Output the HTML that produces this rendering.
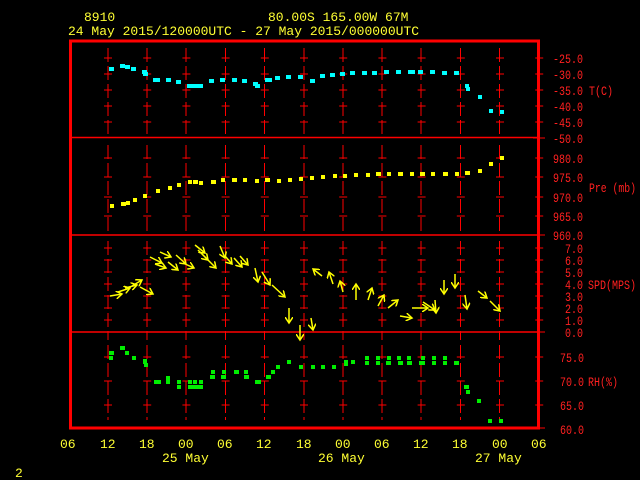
<!DOCTYPE html>
<html><head><meta charset="utf-8"><style>
body{margin:0;background:#000;}
svg{display:block}
text{font-family:"Liberation Mono",monospace;font-size:13px;}
.r text{font-size:12.5px;}
</style></head><body>
<svg width="640" height="480" viewBox="0 0 640 480" xmlns="http://www.w3.org/2000/svg">
<rect width="640" height="480" fill="#000"/>
<g fill="#ffff33">
<text x="84" y="21">8910</text>
<text x="268" y="21">80.00S  165.00W    67M</text>
<text x="68" y="35">24 May 2015/120000UTC - 27 May 2015/000000UTC</text>
<text x="60" y="448">06</text><text x="100" y="448">12</text><text x="139" y="448">18</text>
<text x="178" y="448">00</text><text x="217" y="448">06</text><text x="256" y="448">12</text>
<text x="296" y="448">18</text><text x="335" y="448">00</text><text x="374" y="448">06</text>
<text x="413" y="448">12</text><text x="452" y="448">18</text><text x="492" y="448">00</text>
<text x="531" y="448">06</text>
<text x="162" y="462">25 May</text><text x="318" y="462">26 May</text><text x="475" y="462">27 May</text>
<text x="15" y="477">2</text>
</g>
<g stroke="#ff0000" stroke-width="1" fill="none">
<g stroke-dasharray="14 4">
<path d="M108 48V137M147 48V137M186 48V137M225.5 48V137M264.5 48V137M304 48V137M343 48V137M382 48V137M421 48V137M460.5 48V137M499.5 48V137"/>
<path d="M108 145V235M147 145V235M186 145V235M225.5 145V235M264.5 145V235M304 145V235M343 145V235M382 145V235M421 145V235M460.5 145V235M499.5 145V235"/>
<path d="M108 241V340M147 241V340M186 241V340M225.5 241V340M264.5 241V340M304 241V340M343 241V340M382 241V340M421 241V340M460.5 241V340M499.5 241V340"/>
<path d="M108 345V420M147 345V420M186 345V420M225.5 345V420M264.5 345V420M304 345V420M343 345V420M382 345V420M421 345V420M460.5 345V420M499.5 345V420"/>
</g>
<g stroke-dasharray="8 31.2">
<path d="M104 58H548M104 74H548M104 90H548M104 106H548M104 122H548M104 158H548M104 177H548M104 197H548M104 216H548M104 248H548M104 260H548M104 272H548M104 284H548M104 296H548M104 308H548M104 320H548M104 357H548M104 381H548M104 405H548"/>
</g>
<path d="M533 138H545M533 235H545M533 332H545M533 428H545"/>
<path d="M72 137.5H538M72 235H538M72 332H538" stroke-width="1.5"/>
<rect x="70.5" y="41" width="468" height="387" stroke-width="3"/>
</g>
<g fill="#ff2020" class="r" lengthAdjust="spacingAndGlyphs">
<text x="553" y="63" textLength="30" lengthAdjust="spacingAndGlyphs">-25.0</text><text x="553" y="79" textLength="30" lengthAdjust="spacingAndGlyphs">-30.0</text><text x="553" y="95" textLength="30" lengthAdjust="spacingAndGlyphs">-35.0</text>
<text x="553" y="111" textLength="30" lengthAdjust="spacingAndGlyphs">-40.0</text><text x="553" y="127" textLength="30" lengthAdjust="spacingAndGlyphs">-45.0</text><text x="553" y="143" textLength="30" lengthAdjust="spacingAndGlyphs">-50.0</text>
<text x="589" y="95" textLength="24" lengthAdjust="spacingAndGlyphs">T(C)</text>
<text x="553" y="163" textLength="30" lengthAdjust="spacingAndGlyphs">980.0</text><text x="553" y="182" textLength="30" lengthAdjust="spacingAndGlyphs">975.0</text><text x="553" y="202" textLength="30" lengthAdjust="spacingAndGlyphs">970.0</text>
<text x="553" y="221" textLength="30" lengthAdjust="spacingAndGlyphs">965.0</text><text x="553" y="240" textLength="30" lengthAdjust="spacingAndGlyphs">960.0</text>
<text x="589" y="192" textLength="47" lengthAdjust="spacingAndGlyphs">Pre (mb)</text>
<text x="565" y="253" textLength="18" lengthAdjust="spacingAndGlyphs">7.0</text><text x="565" y="265" textLength="18" lengthAdjust="spacingAndGlyphs">6.0</text><text x="565" y="277" textLength="18" lengthAdjust="spacingAndGlyphs">5.0</text>
<text x="565" y="289" textLength="18" lengthAdjust="spacingAndGlyphs">4.0</text><text x="565" y="301" textLength="18" lengthAdjust="spacingAndGlyphs">3.0</text><text x="565" y="313" textLength="18" lengthAdjust="spacingAndGlyphs">2.0</text>
<text x="565" y="325" textLength="18" lengthAdjust="spacingAndGlyphs">1.0</text><text x="565" y="337" textLength="18" lengthAdjust="spacingAndGlyphs">0.0</text>
<text x="588" y="289" textLength="48" lengthAdjust="spacingAndGlyphs">SPD(MPS)</text>
<text x="560" y="362" textLength="24" lengthAdjust="spacingAndGlyphs">75.0</text><text x="560" y="386" textLength="24" lengthAdjust="spacingAndGlyphs">70.0</text><text x="560" y="410" textLength="24" lengthAdjust="spacingAndGlyphs">65.0</text><text x="560" y="434" textLength="24" lengthAdjust="spacingAndGlyphs">60.0</text>
<text x="588" y="386" textLength="30" lengthAdjust="spacingAndGlyphs">RH(%)</text>
</g>
<g fill="#00ffff">
<rect x="109" y="67" width="5" height="4"/><rect x="120" y="64" width="5" height="4"/><rect x="125" y="65" width="5" height="4"/>
<rect x="131" y="67" width="5" height="4"/><rect x="142" y="70" width="5" height="4"/><rect x="143" y="72" width="5" height="4"/>
<rect x="153" y="78" width="7" height="4"/><rect x="166" y="78" width="5" height="4"/><rect x="176" y="80" width="5" height="4"/>
<rect x="187" y="84" width="16" height="4"/><rect x="209" y="79" width="5" height="4"/><rect x="220" y="78" width="5" height="4"/>
<rect x="232" y="78" width="5" height="4"/><rect x="242" y="79" width="5" height="4"/><rect x="253" y="82" width="5" height="4"/>
<rect x="255" y="84" width="5" height="4"/><rect x="265" y="78" width="7" height="4"/><rect x="275" y="76" width="5" height="4"/>
<rect x="286" y="75" width="5" height="4"/><rect x="298" y="75" width="5" height="4"/><rect x="310" y="79" width="5" height="4"/>
<rect x="320" y="74" width="5" height="4"/><rect x="330" y="73" width="5" height="4"/><rect x="340" y="72" width="5" height="4"/>
<rect x="350" y="71" width="5" height="4"/><rect x="362" y="71" width="5" height="4"/><rect x="372" y="71" width="5" height="4"/>
<rect x="384" y="70" width="5" height="4"/><rect x="396" y="70" width="5" height="4"/><rect x="408" y="70" width="7" height="4"/>
<rect x="418" y="70" width="5" height="4"/><rect x="430" y="70" width="5" height="4"/><rect x="442" y="71" width="5" height="4"/>
<rect x="454" y="71" width="5" height="4"/><rect x="465" y="84" width="4" height="4"/><rect x="466" y="87" width="4" height="4"/>
<rect x="478" y="95" width="4" height="4"/><rect x="489" y="109" width="4" height="4"/><rect x="500" y="110" width="4" height="4"/>
</g>
<g fill="#ffff00">
<rect x="110" y="204" width="4" height="4"/><rect x="121" y="202" width="5" height="4"/><rect x="126" y="201" width="4" height="4"/>
<rect x="133" y="198" width="4" height="4"/><rect x="143" y="194" width="4" height="4"/><rect x="156" y="189" width="4" height="4"/>
<rect x="168" y="186" width="4" height="4"/><rect x="177" y="183" width="4" height="4"/><rect x="188" y="180" width="4" height="4"/>
<rect x="193" y="180" width="5" height="4"/><rect x="199" y="181" width="4" height="4"/><rect x="211" y="180" width="5" height="4"/>
<rect x="221" y="178" width="4" height="4"/><rect x="232" y="178" width="5" height="4"/><rect x="243" y="178" width="4" height="4"/>
<rect x="255" y="179" width="4" height="4"/><rect x="265" y="178" width="5" height="4"/><rect x="277" y="179" width="4" height="4"/>
<rect x="288" y="178" width="4" height="4"/><rect x="299" y="177" width="4" height="4"/><rect x="310" y="176" width="4" height="4"/>
<rect x="321" y="175" width="4" height="4"/><rect x="333" y="174" width="4" height="4"/><rect x="343" y="174" width="4" height="4"/>
<rect x="354" y="173" width="4" height="4"/><rect x="366" y="173" width="4" height="4"/><rect x="376" y="172" width="5" height="4"/>
<rect x="387" y="172" width="4" height="4"/><rect x="398" y="172" width="5" height="4"/><rect x="410" y="172" width="4" height="4"/>
<rect x="420" y="172" width="5" height="4"/><rect x="431" y="172" width="4" height="4"/><rect x="443" y="172" width="5" height="4"/>
<rect x="455" y="172" width="4" height="4"/><rect x="465" y="171" width="5" height="4"/><rect x="478" y="169" width="4" height="4"/>
<rect x="489" y="162" width="4" height="4"/><rect x="500" y="156" width="4" height="4"/>
</g>
<g fill="#00ee00">
<rect x="109" y="351" width="5" height="4"/><rect x="109" y="356" width="4" height="4"/><rect x="120" y="346" width="5" height="4"/>
<rect x="125" y="351" width="4" height="4"/><rect x="132" y="356" width="4" height="4"/><rect x="143" y="359" width="4" height="5"/>
<rect x="144" y="363" width="4" height="4"/><rect x="154" y="380" width="7" height="4"/><rect x="166" y="376" width="4" height="4"/>
<rect x="166" y="380" width="4" height="4"/><rect x="177" y="380" width="4" height="4"/><rect x="177" y="385" width="4" height="4"/>
<rect x="188" y="380" width="4" height="4"/><rect x="193" y="380" width="4" height="4"/><rect x="199" y="380" width="4" height="4"/>
<rect x="188" y="385" width="15" height="4"/><rect x="211" y="370" width="4" height="4"/><rect x="210" y="375" width="5" height="4"/>
<rect x="222" y="370" width="4" height="4"/><rect x="221" y="375" width="5" height="4"/><rect x="234" y="370" width="5" height="4"/>
<rect x="244" y="370" width="4" height="4"/><rect x="244" y="375" width="5" height="4"/><rect x="255" y="380" width="6" height="4"/>
<rect x="266" y="375" width="5" height="4"/><rect x="271" y="370" width="4" height="4"/><rect x="276" y="365" width="4" height="4"/>
<rect x="287" y="360" width="4" height="4"/><rect x="299" y="365" width="4" height="4"/><rect x="311" y="365" width="4" height="4"/>
<rect x="321" y="365" width="4" height="4"/><rect x="332" y="365" width="4" height="4"/><rect x="344" y="360" width="4" height="6"/>
<rect x="351" y="360" width="4" height="4"/><rect x="365" y="356" width="4" height="4"/><rect x="365" y="361" width="4" height="4"/>
<rect x="376" y="356" width="4" height="4"/><rect x="376" y="361" width="4" height="4"/><rect x="387" y="356" width="4" height="4"/>
<rect x="386" y="361" width="5" height="4"/><rect x="397" y="356" width="4" height="4"/><rect x="398" y="361" width="5" height="4"/>
<rect x="407" y="356" width="4" height="4"/><rect x="407" y="361" width="5" height="4"/><rect x="421" y="356" width="4" height="4"/>
<rect x="419" y="361" width="6" height="4"/><rect x="432" y="356" width="4" height="4"/><rect x="432" y="361" width="4" height="4"/>
<rect x="443" y="356" width="4" height="4"/><rect x="443" y="361" width="4" height="4"/><rect x="454" y="361" width="5" height="4"/>
<rect x="464" y="385" width="5" height="4"/><rect x="466" y="390" width="4" height="4"/><rect x="477" y="399" width="4" height="4"/>
<rect x="488" y="419" width="4" height="4"/><rect x="499" y="419" width="4" height="4"/>
</g>
<defs><marker id="a" markerWidth="8" markerHeight="8" refX="6" refY="4" orient="auto" markerUnits="userSpaceOnUse"><path d="M0 0L6 4L0 8" fill="none" stroke="#ffff00" stroke-width="1.5"/></marker></defs>
<g stroke="#ffff00" stroke-width="1.5" marker-end="url(#a)">
<line x1="110" y1="296" x2="122" y2="294"/><line x1="118" y1="292" x2="130" y2="288"/><line x1="125" y1="288" x2="137" y2="285"/>
<line x1="132" y1="286" x2="142" y2="280"/><line x1="140" y1="287" x2="153" y2="294"/><line x1="150" y1="257" x2="162" y2="263"/>
<line x1="155" y1="264" x2="166" y2="268"/><line x1="160" y1="252" x2="171" y2="257"/><line x1="168" y1="262" x2="178" y2="270"/>
<line x1="176" y1="255" x2="186" y2="264"/><line x1="183" y1="263" x2="194" y2="268"/><line x1="195" y1="245" x2="205" y2="253"/>
<line x1="198" y1="250" x2="208" y2="260"/><line x1="205" y1="257" x2="216" y2="268"/><line x1="220" y1="246" x2="225" y2="258"/>
<line x1="225" y1="256" x2="232" y2="264"/><line x1="234" y1="258" x2="242" y2="267"/><line x1="240" y1="256" x2="248" y2="265"/>
<line x1="255" y1="268" x2="258" y2="282"/><line x1="262" y1="272" x2="270" y2="285"/><line x1="272" y1="285" x2="285" y2="297"/>
<line x1="289" y1="308" x2="289" y2="323"/><line x1="300" y1="325" x2="300" y2="340"/><line x1="311" y1="318" x2="313" y2="330"/>
<line x1="322" y1="276" x2="313" y2="269"/><line x1="333" y1="284" x2="329" y2="272"/><line x1="343" y1="292" x2="340" y2="281"/>
<line x1="356" y1="300" x2="356" y2="284"/><line x1="368" y1="300" x2="372" y2="288"/><line x1="378" y1="306" x2="384" y2="295"/>
<line x1="388" y1="308" x2="398" y2="300"/><line x1="400" y1="316" x2="412" y2="318"/><line x1="412" y1="308" x2="428" y2="308"/>
<line x1="423" y1="302" x2="435" y2="310"/><line x1="435" y1="300" x2="436" y2="313"/><line x1="444" y1="280" x2="444" y2="294"/>
<line x1="455" y1="274" x2="455" y2="288"/><line x1="465" y1="295" x2="467" y2="309"/><line x1="478" y1="291" x2="487" y2="298"/>
<line x1="490" y1="301" x2="500" y2="311"/>
</g>
</svg>
</body></html>
